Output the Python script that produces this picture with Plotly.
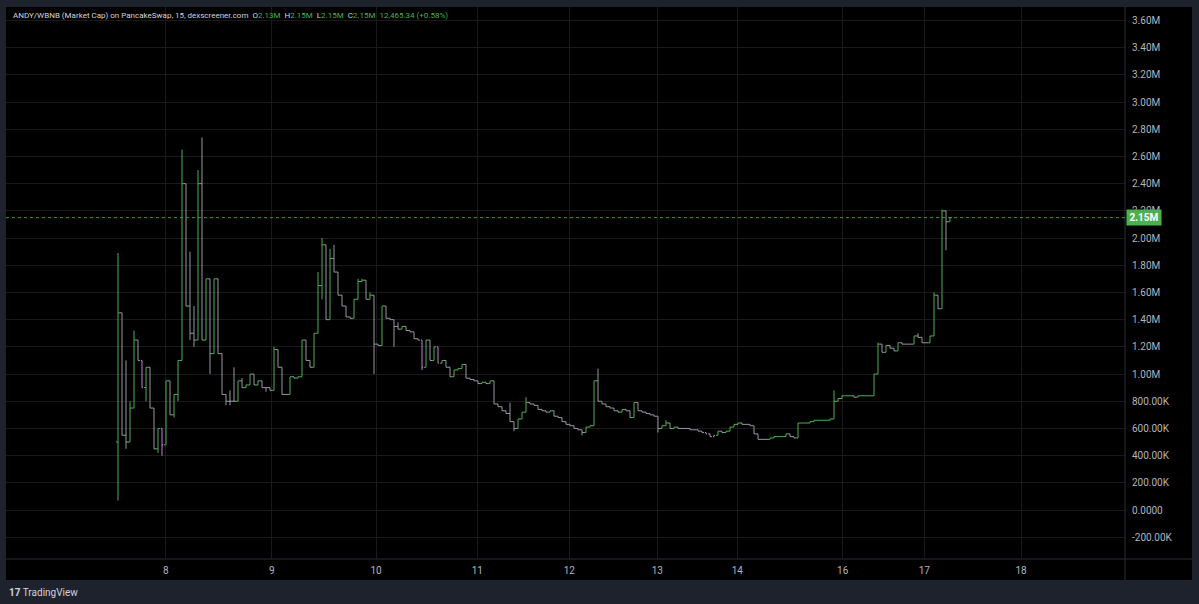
import plotly.graph_objects as go

# ---------------- data (market cap in millions) ----------------
FIRST_OPEN_M = 0.50
CLOSE_M = [
    1.45, 0.55, 0.50, 0.75, 1.25, 1.10, 0.90, 1.05, 0.75, 0.45,
    0.60, 0.48, 0.95, 0.70, 0.85, 1.10, 2.40, 1.50, 1.30, 1.25,
    2.40, 1.25, 1.70, 1.15, 1.70, 1.15, 0.85, 0.80, 0.80, 0.80,
    0.95, 0.90, 0.92, 1.00, 0.92, 0.95, 0.90, 0.90, 0.88, 1.18,
    1.05, 0.85, 0.85, 0.98, 0.97, 0.98, 1.25, 1.10, 1.05, 1.30,
    1.65, 1.95, 1.40, 1.85, 1.75, 1.58, 1.50, 1.42, 1.41, 1.55,
    1.68, 1.69, 1.55, 1.58, 1.22, 1.21, 1.50, 1.41, 1.40, 1.35,
    1.33, 1.35, 1.32, 1.31, 1.26, 1.25, 1.05, 1.25, 1.10, 1.20,
    1.08, 1.10, 1.05, 0.98, 1.03, 1.04, 1.07, 0.97, 0.96, 0.95,
    0.93, 0.94, 0.93, 0.95, 0.78, 0.76, 0.73, 0.71, 0.65, 0.60,
    0.67, 0.72, 0.79, 0.78, 0.77, 0.74, 0.73, 0.72, 0.73, 0.69,
    0.68, 0.65, 0.63, 0.62, 0.60, 0.59, 0.57, 0.61, 0.62, 0.95,
    0.80, 0.78, 0.76, 0.75, 0.73, 0.72, 0.74, 0.73, 0.68, 0.79,
    0.73, 0.72, 0.71, 0.70, 0.69, 0.60, 0.62, 0.64, 0.60, 0.61,
    0.60, 0.60, 0.60, 0.59, 0.59, 0.58, 0.57, 0.56, 0.54, 0.55,
    0.58, 0.57, 0.58, 0.61, 0.63, 0.64, 0.63, 0.63, 0.62, 0.56,
    0.52, 0.52, 0.52, 0.53, 0.54, 0.54, 0.54, 0.56, 0.54, 0.53,
    0.64, 0.64, 0.64, 0.65, 0.66, 0.66, 0.66, 0.66, 0.67, 0.80,
    0.82, 0.84, 0.84, 0.84, 0.83, 0.84, 0.84, 0.84, 0.84, 1.00,
    1.22, 1.16, 1.21, 1.19, 1.17, 1.23, 1.22, 1.22, 1.22, 1.28,
    1.27, 1.23, 1.23, 1.28, 1.58, 1.48, 2.20, 2.12, 2.15,
]
WICK_HIGH_M = {0: 1.89, 1: 1.45, 2: 1.10, 3: 0.80, 4: 1.32, 5: 1.25, 6: 1.00,
               8: 0.92, 9: 0.66, 13: 0.90, 16: 2.65, 17: 2.40, 18: 1.90,
               19: 1.50, 20: 2.50, 21: 2.74, 28: 0.88, 29: 1.05, 31: 0.97,
               39: 1.20, 41: 1.00, 50: 1.75, 51: 2.00, 52: 1.90, 53: 1.92,
               54: 1.95, 55: 1.70, 60: 1.70, 61: 1.70, 62: 1.67, 63: 1.60,
               70: 1.38, 98: 0.79, 102: 0.83, 120: 1.04, 137: 0.66,
               179: 0.88, 190: 1.23, 200: 1.30, 204: 1.60, 206: 2.21}
WICK_LOW_M = {0: 0.07, 2: 0.45, 3: 0.50, 7: 0.80, 10: 0.42, 11: 0.40, 12: 0.50,
              14: 0.68, 15: 0.80, 16: 1.30, 18: 1.25, 19: 1.20, 23: 1.00,
              27: 0.77, 28: 0.77, 37: 0.87, 51: 1.55, 64: 1.00, 69: 1.20,
              76: 1.03, 99: 0.58, 116: 0.55, 135: 0.57, 207: 1.91}
PINK_BARS = [6, 11, 76, 80, 147, 149]

DAY_TICK_POS = [11.93, 38.43, 64.5, 89.83, 112.83, 134.83, 154.83, 181.18, 201.58, 225.75]
DAY_TICK_TEXT = ["8", "9", "10", "11", "12", "13", "14", "16", "17", "18"]

PRICE_TICKS_M = [-0.2, 0.0, 0.2, 0.4, 0.6, 0.8, 1.0, 1.2, 1.4, 1.6, 1.8,
                 2.0, 2.2, 2.4, 2.6, 2.8, 3.0, 3.2, 3.4, 3.6]
PRICE_TICK_TEXT = ["-200.00K", "0.0000", "200.00K", "400.00K", "600.00K",
                   "800.00K", "1.00M", "1.20M", "1.40M", "1.60M", "1.80M",
                   "2.00M", "2.20M", "2.40M", "2.60M", "2.80M", "3.00M",
                   "3.20M", "3.40M", "3.60M"]

LAST_PRICE_M = 2.15
LAST_PRICE_TEXT = "2.15M"
TITLE = "ANDY/WBNB (Market Cap) on PancakeSwap, 15, dexscreener.com"
OHLC_TEXT = [("O", "2.13M"), ("H", "2.15M"), ("L", "2.15M"), ("C", "2.15M")]
CHANGE_TEXT = "12,465.34 (+0.58%)"

# ---------------- build bars ----------------
n = len(CLOSE_M)
opens = [FIRST_OPEN_M] + CLOSE_M[:-1]
highs, lows = [], []
for i in range(n):
    o, c = opens[i], CLOSE_M[i]
    highs.append(max(o, c, WICK_HIGH_M.get(i, c)))
    lows.append(min(o, c, WICK_LOW_M.get(i, c)))

GREEN = "#4caf50"
GRAY = "#9598a1"
PINK = "#c77dd7"
FONT = "Roboto"

pink_set = set(PINK_BARS)
norm_idx = [i for i in range(n) if i not in pink_set]
pink_idx = [i for i in range(n) if i in pink_set]

fig = go.Figure()
fig.add_trace(go.Ohlc(
    x=norm_idx,
    open=[opens[i] for i in norm_idx], high=[highs[i] for i in norm_idx],
    low=[lows[i] for i in norm_idx], close=[CLOSE_M[i] for i in norm_idx],
    increasing=dict(line=dict(color=GREEN, width=1)),
    decreasing=dict(line=dict(color=GRAY, width=1)),
    tickwidth=0.5, showlegend=False, hoverinfo="skip",
))
gaps = [b - a for a, b in zip(pink_idx, pink_idx[1:])]
fig.add_trace(go.Ohlc(
    x=pink_idx,
    open=[opens[i] for i in pink_idx], high=[highs[i] for i in pink_idx],
    low=[lows[i] for i in pink_idx], close=[CLOSE_M[i] for i in pink_idx],
    increasing=dict(line=dict(color=PINK, width=1)),
    decreasing=dict(line=dict(color=PINK, width=1)),
    tickwidth=0.5 / min(gaps), showlegend=False, hoverinfo="skip",
))

# pixel helpers for layout (plot area x 6..1125, y 7..559)
W, H = 1199, 604
PL, PR, PT, PB = 6, 1125, 7, 559
def px(xp):
    return (xp - PL) / (PR - PL)
def py(yp):
    return (PB - yp) / (PB - PT)

SEP = "#2a2e39"
shapes = [
    dict(type="rect", xref="paper", yref="paper", x0=px(6), x1=px(1192),
         y0=py(580), y1=py(7), fillcolor="#000000", line=dict(width=0), layer="below"),
    dict(type="line", xref="paper", yref="paper", x0=px(1125), x1=px(1125),
         y0=py(580), y1=py(7), line=dict(color=SEP, width=1)),
    dict(type="line", xref="paper", yref="paper", x0=px(6), x1=px(1192),
         y0=py(559), y1=py(559), line=dict(color=SEP, width=1)),
    dict(type="line", xref="paper", yref="y", x0=0, x1=1,
         y0=LAST_PRICE_M, y1=LAST_PRICE_M, line=dict(color="#3d9a41", width=1, dash="dot")),
]

header = TITLE + "  " + "  ".join(
    f"{k}<span style='color:{GREEN}'>{v}</span>" for k, v in OHLC_TEXT
) + f"  <span style='color:{GREEN}'>{CHANGE_TEXT}</span>"

annotations = [
    dict(xref="paper", yref="paper", x=px(11), y=py(16), xanchor="left", yanchor="middle",
         text=header, showarrow=False, font=dict(family=FONT, size=8, color="#d1d4dc")),
    dict(xref="paper", yref="y", x=px(1126), y=LAST_PRICE_M, xanchor="left", yanchor="middle",
         text=f"<b>{LAST_PRICE_TEXT}</b>", showarrow=False, bgcolor=GREEN, borderpad=2,
         width=30, font=dict(family=FONT, size=10, color="#ffffff")),
    dict(xref="paper", yref="paper", x=px(7), y=py(592), xanchor="left", yanchor="middle",
         text="<b>17</b> TradingView", showarrow=False,
         font=dict(family=FONT, size=10, color="#d1d4dc")),
]

GRID = "#1a1a1a"
fig.update_layout(
    width=W, height=H,
    margin=dict(l=PL, r=W - PR, t=PT, b=H - PB, pad=0),
    paper_bgcolor="#1e222d", plot_bgcolor="#000000",
    shapes=shapes, annotations=annotations,
    xaxis=dict(range=[-28, 251.75], tickvals=DAY_TICK_POS, ticktext=DAY_TICK_TEXT,
               showgrid=True, gridcolor=GRID, gridwidth=1, zeroline=False,
               showline=False, ticks="", rangeslider=dict(visible=False),
               tickfont=dict(family=FONT, size=10, color="#b2b5be"),
               ticklabelstandoff=4),
    yaxis=dict(side="right", range=[-0.36, 3.699], tickvals=PRICE_TICKS_M,
               ticktext=PRICE_TICK_TEXT, showgrid=True, gridcolor=GRID, gridwidth=1,
               zeroline=False, showline=False, ticks="",
               tickfont=dict(family=FONT, size=10, color="#b2b5be"),
               ticklabelstandoff=6),
)

fig.write_html("out.html")
